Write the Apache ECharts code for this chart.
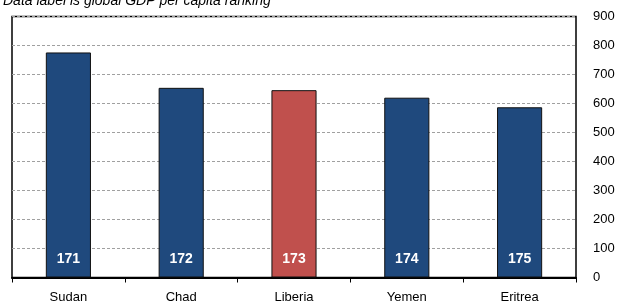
<!DOCTYPE html>
<html><head><meta charset="utf-8">
<script src="https://cdn.jsdelivr.net/npm/echarts@6/dist/echarts.min.js"></script>
<style>html,body{margin:0;padding:0;background:#fff}#c{width:634px;height:304px}</style>
</head><body><div id="c"></div>
<script>
const categories = ['Sudan', 'Chad', 'Liberia', 'Yemen', 'Eritrea'];
const gdpPerCapita = [776, 654, 646, 620, 587];
const ranks = [171, 172, 173, 174, 175];
const barColors = ['#1F497D', '#1F497D', '#C0504D', '#1F497D', '#1F497D'];
const titleText = 'Data label is global GDP per capita ranking';

const FONT = 'Liberation Sans';
const chart = echarts.init(document.getElementById('c'), null, {renderer: 'canvas'});
chart.setOption({
  animation: false,
  backgroundColor: '#fff',
  textStyle: {fontFamily: FONT},
  graphic: [{
    type: 'text', left: 3, top: -6,
    style: {text: titleText, font: 'italic 14px "Liberation Sans"', fill: '#000'}
  }],
  grid: {left: 12, right: 58, top: 16.5, bottom: 26.5, show: true, borderColor: '#000', borderWidth: 1.5, backgroundColor: 'transparent'},
  xAxis: {
    type: 'category', data: categories, boundaryGap: true,
    axisLine: {show: true, lineStyle: {color: '#000', width: 2}},
    axisTick: {show: true, length: 5, lineStyle: {color: '#000', width: 1}},
    axisLabel: {color: '#000', fontSize: 13, fontFamily: FONT, margin: 13}
  },
  yAxis: {
    type: 'value', position: 'right', min: 0, max: 900, interval: 100,
    axisLine: {show: false}, axisTick: {show: false},
    axisLabel: {color: '#000', fontSize: 13, fontFamily: FONT, align: 'left', margin: 17},
    splitLine: {show: true, lineStyle: {color: '#a0a0a0', type: [3, 2], width: 1}}
  },
  series: [{
    type: 'bar', barWidth: '40%',
    data: gdpPerCapita.map((v, i) => ({value: v, itemStyle: {color: barColors[i]}})),
    itemStyle: {borderColor: '#111', borderWidth: 1},
    label: {
      show: true, position: 'insideBottom', distance: 11,
      formatter: p => String(ranks[p.dataIndex]),
      color: '#fff', fontWeight: 'bold', fontSize: 14, fontFamily: FONT
    }
  }]
});
</script></body></html>
